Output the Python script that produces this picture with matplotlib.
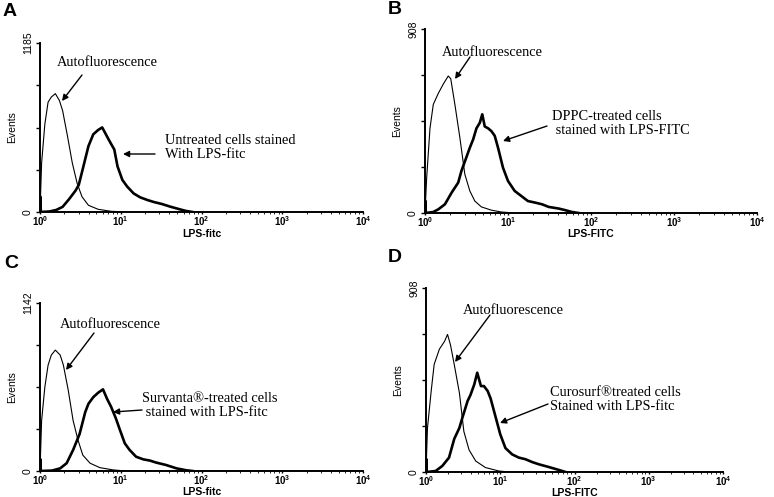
import matplotlib
matplotlib.use("Agg")
import matplotlib.pyplot as plt
import numpy as np

W, H = 774, 497
plt.rcParams['mathtext.default'] = 'regular'

# ---------------- data (log10 intensity, events) ----------------
a_ymax = 1185
a_auto_log = [0, 0.02, 0.06, 0.10, 0.14, 0.19, 0.24, 0.28, 0.34, 0.40, 0.46, 0.52, 0.60, 0.72, 0.88, 1.08]
a_auto_ev = [0, 344, 616, 770, 806, 830, 782, 711, 533, 344, 201, 107, 47, 19, 5, 0]
a_stain_log = [0, 0.005, 0.01, 0.12, 0.20, 0.28, 0.36, 0.44, 0.48, 0.52, 0.60, 0.66, 0.72, 0.77, 0.81, 0.86, 0.92,
               0.96, 1.02, 1.08, 1.16, 1.24, 1.33, 1.41, 1.51, 1.61, 1.73, 1.81, 1.89]
a_stain_ev = [0, 107, 0, 4, 14, 36, 90, 150, 190, 280, 462, 545, 575, 593, 551, 498, 438,
              320, 225, 178, 130, 103, 84, 70, 56, 38, 19, 7, 0]

b_ymax = 908
b_auto_log = [0, 0.02, 0.06, 0.10, 0.16, 0.22, 0.28, 0.31, 0.36, 0.42, 0.48, 0.54, 0.60, 0.68, 0.80, 0.92, 1.08]
b_auto_ev = [0, 173, 418, 536, 590, 636, 676, 663, 536, 372, 191, 109, 59, 30, 14, 5, 0]
b_stain_log = [0, 0.005, 0.01, 0.10, 0.16, 0.24, 0.32, 0.40, 0.44, 0.48, 0.54, 0.58, 0.62, 0.66, 0.69, 0.72,
               0.76, 0.80, 0.84, 0.88, 0.94, 1.00, 1.08, 1.16, 1.24, 1.33, 1.41, 1.49, 1.61, 1.69, 1.77, 1.85]
b_stain_ev = [0, 60, 0, 5, 18, 43, 100, 150, 209, 254, 322, 363, 418, 445, 487, 427,
              418, 404, 381, 322, 223, 158, 109, 84, 59, 51, 43, 30, 22, 14, 5, 0]

c_ymax = 1142
c_auto_log = [0, 0.02, 0.06, 0.10, 0.14, 0.19, 0.25, 0.29, 0.35, 0.41, 0.47, 0.53, 0.62, 0.74, 0.91, 1.07]
c_auto_ev = [0, 343, 571, 719, 788, 822, 788, 719, 548, 343, 211, 108, 53, 23, 7, 0]
c_stain_log = [0, 0.005, 0.01, 0.15, 0.25, 0.33, 0.41, 0.49, 0.56, 0.60, 0.66, 0.72, 0.78, 0.83, 0.88, 0.94,
               0.99, 1.05, 1.11, 1.19, 1.28, 1.36, 1.44, 1.56, 1.69, 1.81, 1.89]
c_stain_ev = [0, 80, 0, 3, 18, 53, 143, 251, 400, 457, 502, 532, 555, 491, 437, 357,
              279, 188, 143, 97, 79, 71, 57, 41, 18, 5, 0]

d_ymax = 908
d_auto_log = [0, 0.02, 0.07, 0.11, 0.18, 0.25, 0.29, 0.33, 0.38, 0.45, 0.51, 0.58, 0.67, 0.80, 0.98, 1.12]
d_auto_ev = [0, 218, 400, 531, 606, 645, 679, 627, 531, 390, 200, 109, 54, 22, 5, 0]
d_stain_log = [0, 0.005, 0.01, 0.13, 0.22, 0.31, 0.38, 0.45, 0.49, 0.56, 0.60, 0.65, 0.69, 0.74, 0.78, 0.83,
               0.87, 0.94, 1.00, 1.07, 1.16, 1.25, 1.34, 1.43, 1.52, 1.65, 1.79, 1.88]
d_stain_ev = [0, 64, 0, 5, 30, 71, 163, 218, 268, 350, 381, 432, 490, 424, 424, 400,
              363, 268, 186, 118, 87, 71, 63, 49, 38, 25, 10, 0]

x_tick_labels = ['10$^0$', '10$^1$', '10$^2$', '10$^3$', '10$^4$']
panel_letters = ['A', 'B', 'C', 'D']
x_labels = ['LPS-fitc', 'LPS-FITC', 'LPS-fitc', 'LPS-FITC']
stain_texts = ['Untreated cells stained\nWith LPS-fitc',
               'DPPC-treated cells\n stained with LPS-FITC',
               'Survanta\u00ae-treated cells\n stained with LPS-fitc',
               'Curosurf\u00aetreated cells\nStained with LPS-fitc']

# ---------------- layout (image pixels) ----------------
# left, top, right, bottom
boxes = [(40, 43, 363, 212), (425, 29, 757, 213), (40, 303, 363, 471), (426, 288, 723, 472)]
xlabel_top_y = [229, 229, 487, 488]
letter_pos = [(3, 12), (388, 10), (4, 263), (388, 258)]
auto_text = [(57, 62), (442, 52), (60, 325), (463, 310)]
auto_arrow = [((82, 75), (62, 101)), ((470, 57), (455, 79)), ((94, 333), (66, 370)), ((490, 315), (455, 362))]
stain_text = [(165, 148), (552, 124), (142, 405), (550, 399)]
stain_arrow = [((155, 154), (123, 154)), ((547, 126), (503, 141)), ((142, 410), (113, 412)),
               ((548, 404), (500, 423))]

fig = plt.figure(figsize=(W / 100, H / 100), dpi=100)

def P(x, y):
    return (x, H - y)

sans = 'Liberation Sans'
serif = 'Liberation Serif'

panels = [
    (a_ymax, a_auto_log, a_auto_ev, a_stain_log, a_stain_ev),
    (b_ymax, b_auto_log, b_auto_ev, b_stain_log, b_stain_ev),
    (c_ymax, c_auto_log, c_auto_ev, c_stain_log, c_stain_ev),
    (d_ymax, d_auto_log, d_auto_ev, d_stain_log, d_stain_ev),
]

for i, (ymax, al, ae, sl, se) in enumerate(panels):
    l, t, r, b = boxes[i]
    ax = fig.add_axes([l / W, (H - b) / H, (r - l) / W, (b - t) / H])
    ax.plot(10 ** np.array(al), ae, color='black', lw=0.8)
    ax.plot(10 ** np.array(sl), se, color='black', lw=1.9)
    ax.set_xscale('log')
    ax.set_xlim(1, 1e4)
    ax.set_ylim(0, ymax)
    for s in ['top', 'right']:
        ax.spines[s].set_visible(False)
    for s in ['left', 'bottom']:
        ax.spines[s].set_linewidth(1.4)
    ax.set_xticks([1, 10, 100, 1000, 10000])
    ax.set_xticklabels(x_tick_labels, fontsize=7, family=sans, fontweight='bold')
    ax.xaxis.set_minor_locator(matplotlib.ticker.LogLocator(base=10, subs=np.arange(2, 10)))
    ax.xaxis.set_minor_formatter(matplotlib.ticker.NullFormatter())
    ax.tick_params(axis='x', which='major', length=1.5, width=1, pad=0)
    ax.tick_params(axis='x', which='minor', length=1.2, width=0.6)
    ax.set_yticks(np.linspace(0, ymax, 5))
    ax.set_yticklabels(['0', '', '', '', str(ymax)], fontsize=7.5, family=sans, rotation=90, va='center')
    ax.tick_params(axis='y', length=3, width=1, pad=2)
    ax.set_xlabel(x_labels[i], fontsize=7.5, family=sans, fontweight='bold', va='top')
    ax.xaxis.set_label_coords(0.5, -(xlabel_top_y[i] - b) / (b - t))
    ax.set_ylabel('Events', fontsize=7.5, family=sans, labelpad=4)

    fig.text(*P(*letter_pos[i]), panel_letters[i], transform=None, fontsize=14, fontweight='bold',
             family=sans, ha='left', va='center')
    fig.text(*P(*auto_text[i]), 'Autofluorescence', transform=None, fontsize=10.4, family=serif,
             ha='left', va='center')
    fig.text(*P(*stain_text[i]), stain_texts[i], transform=None, fontsize=10.4, family=serif,
             ha='left', va='center', linespacing=1.1)
    for (tail, tip) in [auto_arrow[i], stain_arrow[i]]:
        fig.add_artist(matplotlib.patches.FancyArrowPatch(P(*tail), P(*tip), transform=None,
                       arrowstyle='-|>', mutation_scale=9, color='black', lw=1.0,
                       shrinkA=0, shrinkB=0))

fig.savefig('out.png', dpi=100)
